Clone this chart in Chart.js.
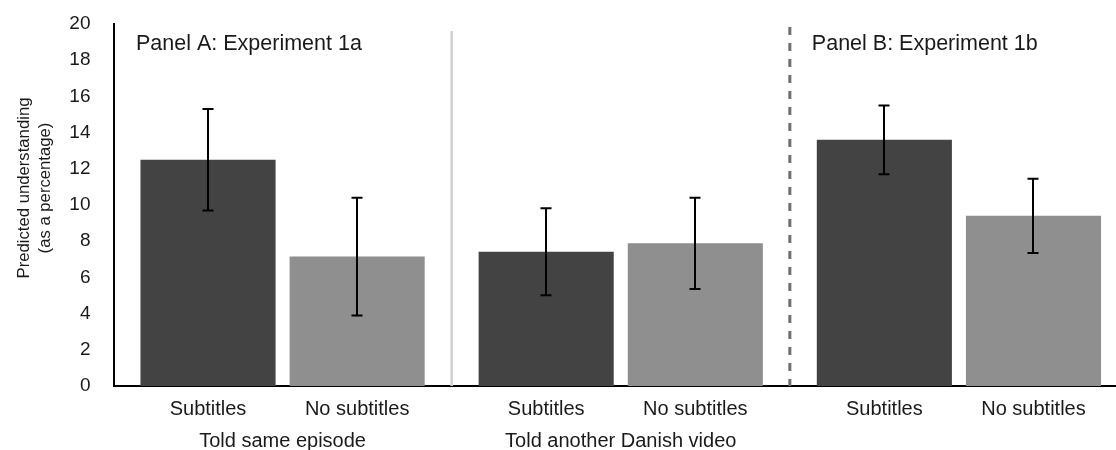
<!DOCTYPE html>
<html>
<head>
<meta charset="utf-8">
<script src="https://cdn.jsdelivr.net/npm/chart.js@4.4.1/dist/chart.umd.min.js"></script>
<style>
  html, body { margin: 0; padding: 0; overflow: hidden; background: #ffffff; }
  canvas { display: block; }
</style>
</head>
<body>
<canvas id="chart" width="1128" height="450"></canvas>
<script>
// Conditions (one group of two bars each) and panel headings
const conditions = ['Told same episode', 'Told another Danish video', ''];
const panelTitles = ['Panel A: Experiment 1a', 'Panel B: Experiment 1b'];
const seriesNames = ['Subtitles', 'No subtitles'];

// Means and error half-widths (percent)
const subtitleMeans = [12.5, 7.42, 13.6];
const subtitleErrors = [2.8, 2.4, 1.9];
const noSubtitleMeans = [7.15, 7.88, 9.4];
const noSubtitleErrors = [3.25, 2.52, 2.05];

// Y axis
const yTicks = [0, 2, 4, 6, 8, 10, 12, 14, 16, 18, 20];
const yTitleLines = ['Predicted understanding', '(as a percentage)'];

const FONT = "'Liberation Sans', Arial, Helvetica, sans-serif";
const TEXT = '#1a1a1a';
Chart.defaults.font.family = FONT;

const errorSets = [subtitleErrors, noSubtitleErrors];

const annotations = {
  id: 'annotations',
  afterDatasetsDraw(chart) {
    const ctx = chart.ctx;
    const area = chart.chartArea;
    const x = chart.scales.x;
    const y = chart.scales.y;
    const step = x.getPixelForValue(1) - x.getPixelForValue(0);
    const sepA = x.getPixelForValue(0) + step / 2;
    const sepB = x.getPixelForValue(1) + step / 2;

    ctx.save();
    // Separator between the two Experiment 1a conditions
    ctx.strokeStyle = '#d2d2d2';
    ctx.lineWidth = 2.5;
    ctx.beginPath();
    ctx.moveTo(sepA, area.top + 7);
    ctx.lineTo(sepA, area.bottom);
    ctx.stroke();

    // Dashed divider between the two panels
    ctx.strokeStyle = '#6e6e6e';
    ctx.lineWidth = 3;
    ctx.setLineDash([8, 8]);
    ctx.beginPath();
    ctx.moveTo(sepB, area.top + 3);
    ctx.lineTo(sepB, area.bottom);
    ctx.stroke();
    ctx.setLineDash([]);

    // Error bars
    ctx.strokeStyle = '#000000';
    ctx.lineWidth = 2;
    chart.data.datasets.forEach((ds, di) => {
      const meta = chart.getDatasetMeta(di);
      meta.data.forEach((bar, i) => {
        const v = ds.data[i];
        const e = errorSets[di][i];
        const yt = y.getPixelForValue(v + e);
        const yb = y.getPixelForValue(v - e);
        const cx = Math.round(bar.x);
        ctx.beginPath();
        ctx.moveTo(cx, yt); ctx.lineTo(cx, yb);
        ctx.moveTo(cx - 5.5, yt); ctx.lineTo(cx + 5.5, yt);
        ctx.moveTo(cx - 5.5, yb); ctx.lineTo(cx + 5.5, yb);
        ctx.stroke();
      });
    });

    // Panel headings
    ctx.fillStyle = TEXT;
    ctx.font = '21.5px ' + FONT;
    ctx.textAlign = 'left';
    ctx.textBaseline = 'alphabetic';
    ctx.fillText(panelTitles[0], area.left + 22.5, 50);
    ctx.fillText(panelTitles[1], sepB + 22, 50);

    // Bar labels beneath each bar
    ctx.font = '20px ' + FONT;
    ctx.textAlign = 'center';
    ctx.textBaseline = 'middle';
    chart.data.datasets.forEach((ds, di) => {
      chart.getDatasetMeta(di).data.forEach((bar) => {
        ctx.fillText(seriesNames[di], bar.x, area.bottom + 23);
      });
    });

    // Condition labels beneath each group
    conditions.forEach((c, i) => {
      if (c) ctx.fillText(c, x.getPixelForValue(i), area.bottom + 55);
    });

    // Y axis title
    ctx.font = '16.7px ' + FONT;
    ctx.translate(0, 188);
    ctx.rotate(-Math.PI / 2);
    ctx.fillText(yTitleLines[0], 0, 24);
    ctx.fillText(yTitleLines[1], 0, 45);
    ctx.restore();
  }
};

new Chart(document.getElementById('chart'), {
  type: 'bar',
  data: {
    labels: conditions,
    datasets: [
      {
        label: seriesNames[0],
        data: subtitleMeans,
        backgroundColor: '#434343',
        categoryPercentage: 0.882,
        barPercentage: 0.906
      },
      {
        label: seriesNames[1],
        data: noSubtitleMeans,
        backgroundColor: '#8f8f8f',
        categoryPercentage: 0.882,
        barPercentage: 0.906
      }
    ]
  },
  options: {
    responsive: false,
    animation: false,
    devicePixelRatio: 1,
    layout: { padding: { top: 24, left: 0, right: 0, bottom: 0 } },
    plugins: {
      legend: { display: false },
      tooltip: { enabled: false },
      title: { display: false }
    },
    scales: {
      x: {
        grid: { display: false, drawTicks: false },
        border: { display: true, color: '#000000', width: 2 },
        ticks: { display: false },
        afterFit(scale) { scale.height = 64; }
      },
      y: {
        min: 0,
        max: 20,
        grid: { display: false, drawTicks: false },
        border: { display: true, color: '#000000', width: 2 },
        afterBuildTicks(scale) { scale.ticks = yTicks.map(v => ({ value: v })); },
        ticks: {
          padding: 23,
          color: TEXT,
          font: { size: 19, family: FONT }
        },
        afterFit(scale) {
          scale.width = 113.5;
          scale.paddingTop = 0;
          scale.paddingBottom = 0;
        }
      }
    }
  },
  plugins: [annotations]
});
</script>
</body>
</html>
